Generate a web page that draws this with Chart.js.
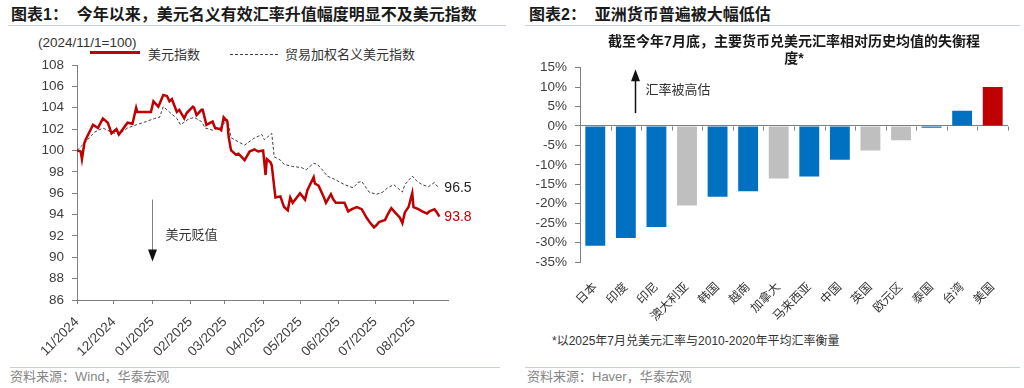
<!DOCTYPE html>
<html>
<head>
<meta charset="utf-8">
<script src="https://cdn.jsdelivr.net/npm/chart.js@4.4.1/dist/chart.umd.min.js"></script>
<style>
  body { margin: 0; background: #fff; }
  #page { position: relative; width: 1024px; height: 388px; overflow: hidden;
          font-family: "Liberation Sans", "Noto Sans CJK SC", sans-serif; color: #222; }
  .abs { position: absolute; white-space: nowrap; }
  .ttl { font-size: 16px; font-weight: bold; line-height: 20px; color: #1a1a1a; }
  .rule { position: absolute; height: 1px; background: #c8d0d9; }
  .src { font-size: 13px; line-height: 16px; color: #858585; }
  .leg { font-size: 13px; line-height: 16px; color: #333; }
  canvas { position: absolute; }
</style>
</head>
<body>
<div id="page">
  <div class="abs ttl" style="left:11px;top:5px;">图表1：&nbsp; 今年以来，美元名义有效汇率升值幅度明显不及美元指数</div>
  <div class="rule" style="left:8px;top:25px;width:498px;"></div>
  <div class="abs ttl" style="left:529px;top:5px;">图表2：&nbsp; 亚洲货币普遍被大幅低估</div>
  <div class="rule" style="left:525px;top:25px;width:495px;"></div>

  <div class="abs leg" style="left:38px;top:35px;font-size:13.5px;">(2024/11/1=100)</div>
  <div class="abs" style="left:90px;top:51px;width:50px;height:2.5px;background:#c00000;"></div>
  <div class="abs leg" style="left:148px;top:47px;">美元指数</div>
  <div class="abs" style="left:230px;top:54px;width:48px;border-top:1px dashed #404040;"></div>
  <div class="abs leg" style="left:285px;top:47px;">贸易加权名义美元指数</div>

  <canvas id="lineChart" width="512" height="320" style="left:0;top:40px;"></canvas>
  <canvas id="barChart" width="512" height="299" style="left:512px;top:31px;"></canvas>

  <div class="abs" style="left:552px;top:333px;font-size:12px;line-height:16px;color:#333;">*以2025年7月兑美元汇率与2010-2020年平均汇率衡量</div>

  <div class="rule" style="left:10px;top:367px;width:490px;"></div>
  <div class="abs src" style="left:10px;top:369px;">资料来源：Wind，华泰宏观</div>
  <div class="rule" style="left:525px;top:367px;width:495px;"></div>
  <div class="abs src" style="left:527px;top:369px;">资料来源：Haver，华泰宏观</div>
</div>

<script>
// 美元指数 (2024/11/1=100)
const usdDates = [
  "2024-11-01","2024-11-04","2024-11-05","2024-11-07","2024-11-08","2024-11-14","2024-11-18","2024-11-22",
  "2024-11-26","2024-11-29","2024-12-03","2024-12-05","2024-12-12","2024-12-16","2024-12-19","2024-12-20",
  "2024-12-27","2024-12-31","2025-01-02","2025-01-06","2025-01-10","2025-01-13","2025-01-15","2025-01-17",
  "2025-01-21","2025-01-23","2025-01-27","2025-01-29","2025-02-03","2025-02-04","2025-02-06","2025-02-10",
  "2025-02-11","2025-02-14","2025-02-19","2025-02-21","2025-02-25","2025-02-26","2025-02-28","2025-03-03",
  "2025-03-04","2025-03-06","2025-03-10","2025-03-12","2025-03-17","2025-03-21","2025-03-25","2025-03-28",
  "2025-04-01","2025-04-03","2025-04-04","2025-04-07","2025-04-08","2025-04-10","2025-04-11","2025-04-15",
  "2025-04-18","2025-04-21","2025-04-23","2025-04-25","2025-05-01","2025-05-05","2025-05-07","2025-05-12",
  "2025-05-13","2025-05-16","2025-05-20","2025-05-22","2025-05-26","2025-05-28","2025-05-30","2025-06-02",
  "2025-06-06","2025-06-09","2025-06-12","2025-06-16","2025-06-20","2025-06-24","2025-06-27","2025-06-30",
  "2025-07-02","2025-07-04","2025-07-09","2025-07-11","2025-07-14","2025-07-17","2025-07-21","2025-07-23",
  "2025-07-25","2025-07-28","2025-07-31","2025-08-01","2025-08-05","2025-08-08","2025-08-12","2025-08-14",
  "2025-08-18","2025-08-20","2025-08-22"
];
const usdValues = [
  100.0, 99.9, 99.2, 100.7, 101.0, 102.4, 102.1, 103.0,
  102.6, 101.6, 102.0, 101.5, 102.6, 102.5, 104.0, 103.6,
  103.6, 103.6, 104.6, 104.1, 105.2, 105.1, 104.6, 104.8,
  103.6, 103.8, 103.0, 103.5, 104.1, 104.0, 103.3, 103.8,
  103.8, 102.4, 102.7, 102.1, 102.0, 101.9, 103.1, 102.7,
  101.3, 100.0, 99.6, 99.7, 99.1, 99.9, 100.1, 99.9,
  100.0, 97.7, 99.2, 98.9, 98.6, 96.6, 95.6, 95.7,
  94.7, 94.4, 95.6, 95.1, 96.0, 95.4, 96.3, 97.5,
  96.9, 96.7, 95.7, 95.1, 95.9, 95.4, 95.1, 95.1,
  95.1, 94.3, 94.5, 94.7, 94.5, 93.7, 93.2, 92.8,
  93.0, 93.3, 93.5, 94.0, 94.6, 94.2, 93.7, 93.2,
  94.2, 94.7, 96.0, 94.7, 94.5, 94.3, 94.1, 94.3,
  94.5, 94.2, 93.8
];

// 贸易加权名义美元指数 (2024/11/1=100)
const twDates = [
  "2024-11-01","2024-11-08","2024-11-15","2024-11-22","2024-11-29","2024-12-05","2024-12-12","2024-12-19",
  "2024-12-27","2025-01-03","2025-01-07","2025-01-10","2025-01-15","2025-01-21","2025-01-24","2025-01-30",
  "2025-02-04","2025-02-10","2025-02-13","2025-02-19","2025-02-26","2025-03-03","2025-03-06","2025-03-12",
  "2025-03-17","2025-03-24","2025-03-31","2025-04-02","2025-04-08","2025-04-10","2025-04-15","2025-04-18",
  "2025-04-25","2025-05-02","2025-05-06","2025-05-12","2025-05-15","2025-05-19","2025-05-23","2025-05-29",
  "2025-06-06","2025-06-13","2025-06-17","2025-06-20","2025-06-26","2025-07-02","2025-07-07","2025-07-11",
  "2025-07-16","2025-07-23","2025-07-25","2025-07-31","2025-08-04","2025-08-08","2025-08-13","2025-08-18",
  "2025-08-19","2025-08-22"
];
const twValues = [
  100.0, 100.8, 101.7, 102.1, 101.7, 101.5, 102.1, 102.4,
  102.7, 103.0, 103.1, 104.1, 103.6, 103.0, 102.4, 102.9,
  103.1, 102.7, 102.1, 101.9, 102.2, 102.9, 101.2, 100.8,
  100.5, 101.1, 101.5, 101.0, 101.6, 99.4, 99.1, 98.7,
  98.5, 98.4, 98.2, 98.8, 98.7, 98.2, 97.6, 97.3,
  96.8, 96.5, 97.0, 97.1, 96.1, 95.9, 96.1, 96.5,
  96.8, 96.1, 96.8, 97.6, 97.1, 96.8, 96.6, 97.0,
  96.8, 96.5
];

const monthTicks = ["2024-11-01","2024-12-01","2025-01-01","2025-02-01","2025-03-01","2025-04-01",
                    "2025-05-01","2025-06-01","2025-07-01","2025-08-01"];
const monthLabels = ["11/2024","12/2024","01/2025","02/2025","03/2025","04/2025",
                     "05/2025","06/2025","07/2025","08/2025"];

// 截至今年7月底，主要货币兑美元汇率相对历史均值的失衡程度 (%)
const currencies = ["日本","印度","印尼","澳大利亚","韩国","越南","加拿大","马来西亚","中国","英国","欧元区","泰国","台湾","美国"];
const misalign = [-30.8, -28.8, -26.0, -20.5, -18.2, -16.8, -13.5, -13.0, -8.7, -6.3, -3.7, -0.5, 3.9, 10.0];
const groups = ["asia","asia","asia","other","asia","asia","other","asia","asia","other","other","asia","asia","us"];

const groupColors = { asia: "#0070c0", other: "#bfbfbf", us: "#c00000" };
const FONT = '"Liberation Sans", "Noto Sans CJK SC", sans-serif';
const AXIS = "#808080";

const dayOf = s => (Date.parse(s) - Date.parse("2024-11-01")) / 864e5;
const toPoints = (dates, vals) => dates.map((d, i) => ({ x: dayOf(d), y: vals[i] }));

function arrowHead(ctx, x, y, dir) {
  ctx.beginPath();
  ctx.moveTo(x, y);
  ctx.lineTo(x - 4.5, y - 12 * dir);
  ctx.lineTo(x + 4.5, y - 12 * dir);
  ctx.closePath();
  ctx.fill();
}

const lineExtras = {
  id: "lineExtras",
  afterDatasetsDraw(chart) {
    const { ctx, scales: { x, y } } = chart;
    ctx.save();
    // end-of-line value labels
    const endColors = ["#c00000", "#262626"];
    chart.data.datasets.forEach((ds, i) => {
      const pts = chart.getDatasetMeta(i).data;
      const last = pts[pts.length - 1];
      ctx.font = "14px " + FONT;
      ctx.fillStyle = endColors[i];
      ctx.textAlign = "left";
      ctx.textBaseline = "middle";
      ctx.fillText(ds.data[ds.data.length - 1].y.toFixed(1), last.x + 5, last.y);
    });
    // 美元贬值 arrow
    const ax = Math.round(x.getPixelForValue(dayOf("2025-01-01"))) + 0.5;
    const top = y.getPixelForValue(95.4);
    const tip = y.getPixelForValue(89.6);
    ctx.strokeStyle = "#808080";
    ctx.lineWidth = 1;
    ctx.beginPath();
    ctx.moveTo(ax, top);
    ctx.lineTo(ax, tip - 10);
    ctx.stroke();
    ctx.fillStyle = "#111";
    arrowHead(ctx, ax, tip, 1);
    ctx.font = "13px " + FONT;
    ctx.fillStyle = "#333";
    ctx.fillText("美元贬值", ax + 13, y.getPixelForValue(92.0));
    ctx.restore();
  }
};

new Chart(document.getElementById("lineChart"), {
  type: "line",
  data: {
    datasets: [
      {
        label: "美元指数",
        data: toPoints(usdDates, usdValues),
        borderColor: "#c00000",
        borderWidth: 2.5,
        pointRadius: 0,
      },
      {
        label: "贸易加权名义美元指数",
        data: toPoints(twDates, twValues),
        borderColor: "#404040",
        borderWidth: 1,
        borderDash: [3, 2],
        pointRadius: 0,
      },
    ],
  },
  options: {
    responsive: false,
    animation: false,
    layout: { padding: { top: 25, right: 64, left: 0, bottom: 0 } },
    plugins: { legend: { display: false }, tooltip: { enabled: false } },
    scales: {
      x: {
        type: "linear",
        min: 0,
        max: 301,
        afterBuildTicks: s => { s.ticks = monthTicks.map(m => ({ value: dayOf(m) })); },
        afterFit: s => { s.height = 60; },
        ticks: {
          callback: (v, i) => monthLabels[i],
          autoSkip: false, minRotation: 45, maxRotation: 45, padding: 10,
          color: "#404040", font: { size: 13.5, family: FONT },
        },
        grid: { drawOnChartArea: false, tickLength: 4, color: AXIS },
        border: { color: AXIS },
      },
      y: {
        min: 86,
        max: 108,
        afterFit: s => { s.width = 77; },
        ticks: { stepSize: 2, padding: 8, color: "#404040", font: { size: 13.5, family: FONT } },
        grid: { drawOnChartArea: false, tickLength: 5, color: AXIS },
        border: { color: AXIS },
      },
    },
  },
  plugins: [lineExtras],
});

const barExtras = {
  id: "barExtras",
  afterDatasetsDraw(chart) {
    const { ctx, scales: { x, y } } = chart;
    ctx.save();
    // tick marks under the zero line at category boundaries
    const y0 = Math.round(y.getPixelForValue(0)) + 0.5;
    ctx.strokeStyle = AXIS;
    ctx.lineWidth = 1;
    for (let i = 0; i <= currencies.length; i++) {
      const px = Math.round(x.getPixelForValue(i - 0.5)) + 0.5;
      ctx.beginPath();
      ctx.moveTo(px, y0);
      ctx.lineTo(px, y0 + 4);
      ctx.stroke();
    }
    // 汇率被高估 arrow
    const ax = Math.round(x.getPixelForValue(1.3)) + 0.5;
    const bottom = y.getPixelForValue(3.3);
    const tip = y.getPixelForValue(14.6);
    ctx.strokeStyle = "#111";
    ctx.lineWidth = 1.5;
    ctx.beginPath();
    ctx.moveTo(ax, bottom);
    ctx.lineTo(ax, tip + 8);
    ctx.stroke();
    ctx.fillStyle = "#111";
    arrowHead(ctx, ax, tip, -1);
    ctx.font = "13px " + FONT;
    ctx.fillStyle = "#333";
    ctx.textAlign = "left";
    ctx.textBaseline = "middle";
    ctx.fillText("汇率被高估", ax + 10, y.getPixelForValue(9.1));
    ctx.restore();
  }
};

new Chart(document.getElementById("barChart"), {
  type: "bar",
  data: {
    labels: currencies,
    datasets: [
      {
        data: misalign,
        backgroundColor: groups.map(g => groupColors[g]),
        barPercentage: 0.65,
        categoryPercentage: 1,
      },
    ],
  },
  options: {
    responsive: false,
    animation: false,
    layout: { padding: { top: 0, right: 16, left: 0, bottom: 0 } },
    plugins: {
      legend: { display: false },
      tooltip: { enabled: false },
      title: {
        display: true,
        fullSize: false,
        text: ["截至今年7月底，主要货币兑美元汇率相对历史均值的失衡程", "度*"],
        color: "#1a1a1a",
        font: { size: 14, weight: "bold", family: FONT, lineHeight: 1.2 },
        padding: { top: 3, bottom: 0 },
      },
    },
    scales: {
      x: {
        afterFit: s => { s.height = 68; },
        grid: { display: false },
        border: { display: false },
        ticks: {
          autoSkip: false, minRotation: 45, maxRotation: 45, padding: 10,
          color: "#333", font: { size: 12, family: FONT },
        },
      },
      y: {
        min: -35,
        max: 15,
        afterFit: s => { s.width = 68; },
        ticks: {
          stepSize: 5, padding: 8, color: "#404040",
          font: { size: 13.5, family: FONT },
          callback: v => v + "%",
        },
        grid: {
          color: c => (c.tick && c.tick.value === 0 ? AXIS : "rgba(0,0,0,0)"),
          tickColor: AXIS,
          tickLength: 5,
        },
        border: { color: AXIS },
      },
    },
  },
  plugins: [barExtras],
});
</script>
</body>
</html>
